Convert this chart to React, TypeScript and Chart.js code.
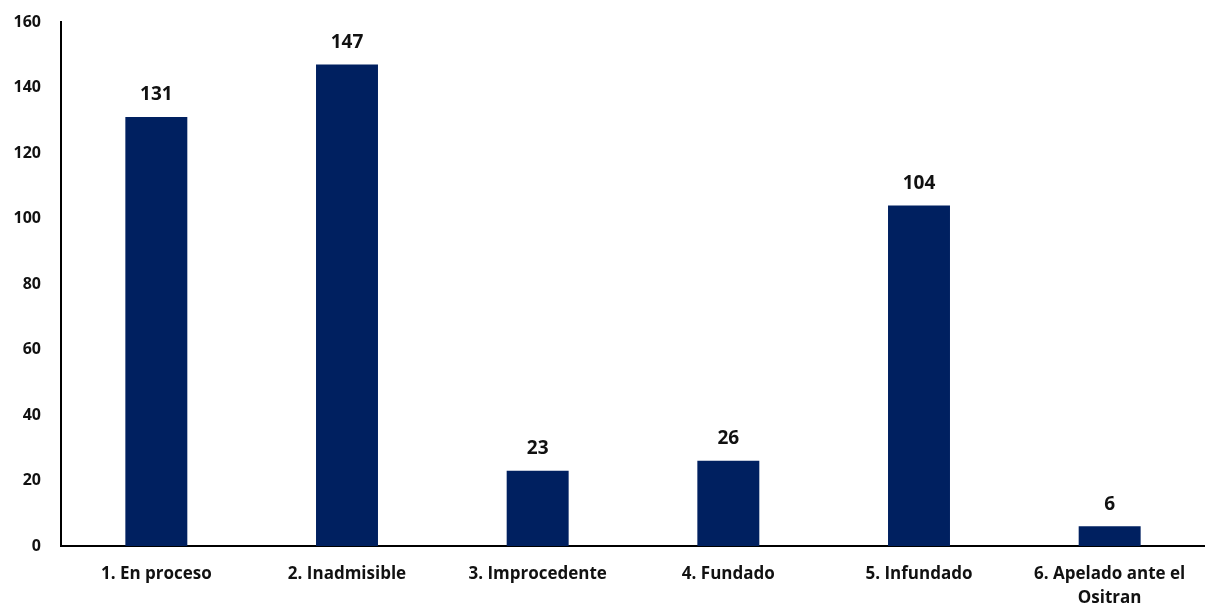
import React, { useEffect, useRef } from "react";
import { Chart, registerables } from "chart.js";

Chart.register(...registerables);

const categories: (string | string[])[] = [
  "1. En proceso",
  "2. Inadmisible",
  "3. Improcedente",
  "4. Fundado",
  "5. Infundado",
  ["6. Apelado ante el", "Ositran"],
];
const values: number[] = [131, 147, 23, 26, 104, 6];
const yTicks: number[] = [0, 20, 40, 60, 80, 100, 120, 140, 160];

const FONT = "'Open Sans', Lato, sans-serif";

const valueLabels = {
  id: "valueLabels",
  afterDatasetsDraw(chart: any) {
    const ctx = chart.ctx;
    const meta = chart.getDatasetMeta(0);
    ctx.save();
    ctx.font = `bold 19px ${FONT}`;
    ctx.fillStyle = "#111111";
    ctx.textAlign = "center";
    ctx.textBaseline = "middle";
    meta.data.forEach((el: any, i: number) => {
      ctx.fillText(String(values[i]), el.x, el.y - 22);
    });
    ctx.restore();
  },
};

export default function App() {
  const ref = useRef<HTMLCanvasElement | null>(null);
  useEffect(() => {
    document.body.style.margin = "0";
    document.body.style.background = "#ffffff";
    const chart = new Chart(ref.current!, {
      type: "bar",
      data: {
        labels: categories,
        datasets: [
          {
            data: values,
            backgroundColor: "#002060",
            barPercentage: 0.325,
            categoryPercentage: 1,
          },
        ],
      },
      options: {
        animation: false,
        responsive: false,
        maintainAspectRatio: false,
        layout: { padding: { top: 22, right: 0, left: 0, bottom: 0 } },
        plugins: { legend: { display: false }, tooltip: { enabled: false } },
        scales: {
          x: {
            afterFit: (axis: any) => {
              axis.height = 62;
              axis.paddingLeft = 0;
              axis.paddingRight = 0;
            },
            grid: { display: false, drawTicks: false },
            border: { display: true, color: "#000000", width: 2 },
            ticks: {
              color: "#111111",
              font: { family: FONT, size: 17, weight: "bold", lineHeight: 1.42 },
              padding: 16,
              maxRotation: 0,
              autoSkip: false,
            },
          },
          y: {
            min: 0,
            max: 160,
            afterBuildTicks: (axis: any) => {
              axis.ticks = yTicks.map((v) => ({ value: v }));
            },
            afterFit: (axis: any) => {
              axis.width = 61;
              axis.paddingTop = 0;
              axis.paddingBottom = 0;
            },
            grid: { display: false, drawTicks: false },
            border: { display: true, color: "#000000", width: 2 },
            ticks: {
              color: "#111111",
              font: { family: FONT, size: 16, weight: "bold" },
              padding: 20,
            },
          },
        },
      },
      plugins: [valueLabels],
    });
    return () => chart.destroy();
  }, []);
  return (
    <div style={{ width: 1205, height: 608 }}>
      <canvas ref={ref} width={1205} height={608} style={{ display: "block" }} />
    </div>
  );
}
